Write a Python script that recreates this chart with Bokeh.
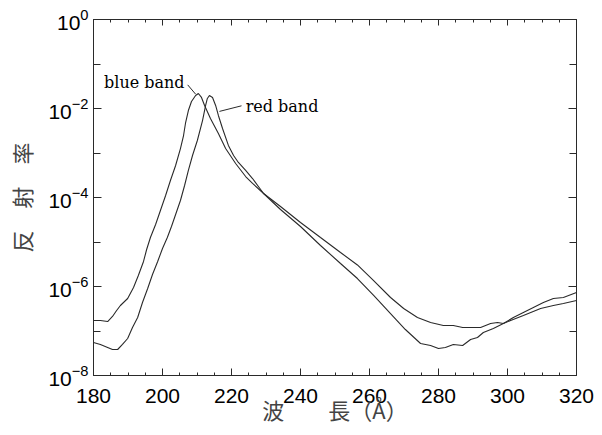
from bokeh.plotting import figure
from bokeh.models import (FixedTicker, LogAxis, LinearAxis, Label, Arrow,
                          LogTickFormatter)
from bokeh.embed import file_html
from bokeh.resources import INLINE

# ---- data ----
blue_x = [180.0, 182.0, 184.1, 185.5, 186.7, 187.8, 189.9, 191.6, 193.0, 194.5,
          195.4, 196.5, 198.0, 199.4, 200.9, 202.3, 203.8, 205.2, 206.1, 206.7,
          207.5, 208.4, 209.6, 210.4, 211.3, 212.2, 213.9, 216.2, 218.3, 221.2,
          224.1, 226.1, 229.3, 234.2, 240.0, 245.8, 251.6, 256.5, 261.2, 266.1,
          269.9, 273.9, 277.7, 281.4, 284.3, 287.0, 292.2, 295.1, 297.1, 298.8,
          300.9, 304.6, 309.6, 313.3, 316.2, 320.0]
blue_y = [1.72e-7, 1.72e-7, 1.63e-7, 2.12e-7, 2.89e-7, 3.74e-7, 5.37e-7, 9.5e-7, 1.77e-6, 3.65e-6,
          6.78e-6, 1.26e-5, 2.47e-5, 5.10e-5, 1.11e-4, 2.41e-4, 5.24e-4, 1.26e-3, 2.47e-3, 4.84e-3,
          9.01e-3, 1.44e-2, 1.96e-2, 2.17e-2, 1.77e-2, 1.17e-2, 5.96e-3, 2.74e-3, 1.26e-3, 5.81e-4,
          2.96e-4, 2.07e-4, 1.23e-4, 6.28e-5, 2.74e-5, 1.26e-5, 5.81e-6, 3.05e-6, 1.36e-6, 5.66e-7,
          3.21e-7, 2.01e-7, 1.55e-7, 1.33e-7, 1.33e-7, 1.20e-7, 1.20e-7, 1.47e-7, 1.55e-7, 1.47e-7,
          1.72e-7, 2.23e-7, 3.21e-7, 3.74e-7, 4.15e-7, 4.84e-7]

red_x = [180.0, 182.0, 184.1, 185.5, 187.0, 188.4, 189.9, 191.3, 192.8, 194.2,
         195.7, 197.1, 198.6, 200.0, 201.4, 202.6, 203.8, 205.2, 206.4, 207.5,
         208.7, 210.1, 211.6, 212.5, 213.0, 213.6, 214.5, 215.4, 216.2, 217.4,
         219.1, 220.6, 222.0, 224.1, 226.1, 227.8, 229.3, 234.2, 240.0, 245.8,
         251.6, 256.5, 261.2, 266.1, 270.4, 274.8, 277.7, 280.0, 282.0, 284.3,
         287.0, 289.3, 291.3, 293.0, 295.9, 298.8, 301.7, 304.6, 307.5, 310.4,
         313.3, 316.2, 320.0]
red_y = [5.52e-8, 4.98e-8, 4.26e-8, 3.84e-8, 3.84e-8, 4.98e-8, 6.78e-8, 1.20e-7, 2.01e-7, 4.36e-7,
         9.02e-7, 1.86e-6, 3.65e-6, 7.15e-6, 1.26e-5, 2.23e-5, 4.15e-5, 8.57e-5, 1.86e-4, 4.05e-4,
         8.79e-4, 1.91e-3, 5.37e-3, 1.17e-2, 1.68e-2, 1.96e-2, 1.77e-2, 1.17e-2, 6.97e-3, 3.56e-3,
         1.48e-3, 8.79e-4, 6.12e-4, 4.05e-4, 2.67e-4, 1.77e-4, 1.23e-4, 5.37e-5, 2.23e-5, 8.34e-6,
         3.29e-6, 1.51e-6, 6.28e-7, 2.47e-7, 1.08e-7, 5.24e-8, 4.72e-8, 4.05e-8, 4.26e-8, 4.98e-8,
         4.72e-8, 6.44e-8, 7.15e-8, 9.25e-8, 1.14e-7, 1.47e-7, 2.01e-7, 2.61e-7, 3.37e-7, 4.36e-7,
         5.37e-7, 5.66e-7, 7.33e-7]

x_ticks = [180, 200, 220, 240, 260, 280, 300, 320]
x_minor = [185, 190, 195, 205, 210, 215, 225, 230, 235, 245, 250, 255,
           265, 270, 275, 285, 290, 295, 305, 310, 315]
y_ticks = [1e-8, 1e-6, 1e-4, 1e-2, 1e0]
y_minor = [1e-7, 1e-5, 1e-3, 1e-1]

x_label = "波　　長（Å）"
y_label = "反　射　率"
blue_name = "blue band"
red_name = "red band"

INK = "#2a2a2a"

p = figure(frame_width=483, frame_height=356, output_backend="svg", toolbar_location=None,
           x_range=(180, 320), y_range=(1e-8, 1.0), y_axis_type="log",
           min_border_left=93, min_border_right=24, min_border_top=19,
           min_border_bottom=58, background_fill_color="white",
           border_fill_color="white")
p.xgrid.visible = False
p.ygrid.visible = False
p.outline_line_color = INK
p.outline_line_width = 1

p.line(blue_x, blue_y, line_color=INK, line_width=1.1)
p.line(red_x, red_y, line_color=INK, line_width=1.1)


def style_axis(ax, tick_in, minor_in, show_labels):
    ax.axis_line_color = INK
    ax.major_tick_line_color = INK
    ax.minor_tick_line_color = INK
    ax.major_tick_in = tick_in
    ax.major_tick_out = 0
    ax.minor_tick_in = minor_in
    ax.minor_tick_out = 0
    if show_labels:
        ax.major_label_text_font = "Liberation Sans"
        ax.major_label_text_font_size = "21px"
        ax.major_label_text_color = "black"
    else:
        ax.major_label_text_font_size = "1px"
        ax.major_label_text_color = None
        ax.major_label_standoff = 0


xt = FixedTicker(ticks=x_ticks, minor_ticks=x_minor)
yt = FixedTicker(ticks=y_ticks, minor_ticks=y_minor)

xa = p.xaxis[0]
xa.ticker = xt
style_axis(xa, 7, 3, True)
xa.major_label_standoff = 13
xa.axis_label = x_label
xa.axis_label_text_font = "Noto Sans CJK JP"
xa.axis_label_text_font_size = "22px"
xa.axis_label_text_font_style = "normal"
xa.axis_label_standoff = -13

ya = p.yaxis[0]
ya.ticker = yt
ya.formatter = LogTickFormatter()
style_axis(ya, 8, 7, True)
ya.major_label_standoff = 5
ya.axis_label = y_label
ya.axis_label_text_font = "Noto Sans CJK JP"
ya.axis_label_text_font_size = "22px"
ya.axis_label_text_font_style = "normal"
ya.axis_label_standoff = 8

top = LinearAxis(ticker=FixedTicker(ticks=x_ticks, minor_ticks=x_minor))
style_axis(top, 6, 3, False)
p.add_layout(top, "above")

right = LogAxis(ticker=FixedTicker(ticks=y_ticks, minor_ticks=y_minor))
style_axis(right, 8, 7, False)
p.add_layout(right, "right")

# annotations
p.add_layout(Label(x=206.4, y=3.8e-2, text=blue_name, text_align="right",
                   text_baseline="alphabetic", text_font="DejaVu Serif",
                   text_font_size="16px", text_color="black"))
p.add_layout(Arrow(end=None, x_start=207.3, y_start=3.4e-2, x_end=209.6, y_end=2.1e-2,
                   line_color=INK, line_width=1))
p.add_layout(Label(x=224.1, y=1.12e-2, text=red_name, text_align="left",
                   text_baseline="alphabetic", text_font="DejaVu Serif",
                   text_font_size="16px", text_color="black"))
p.add_layout(Arrow(end=None, x_start=222.9, y_start=1.15e-2, x_end=216.5, y_end=8.6e-3,
                   line_color=INK, line_width=1))

open("out.html", "w").write(file_html(p, INLINE))
